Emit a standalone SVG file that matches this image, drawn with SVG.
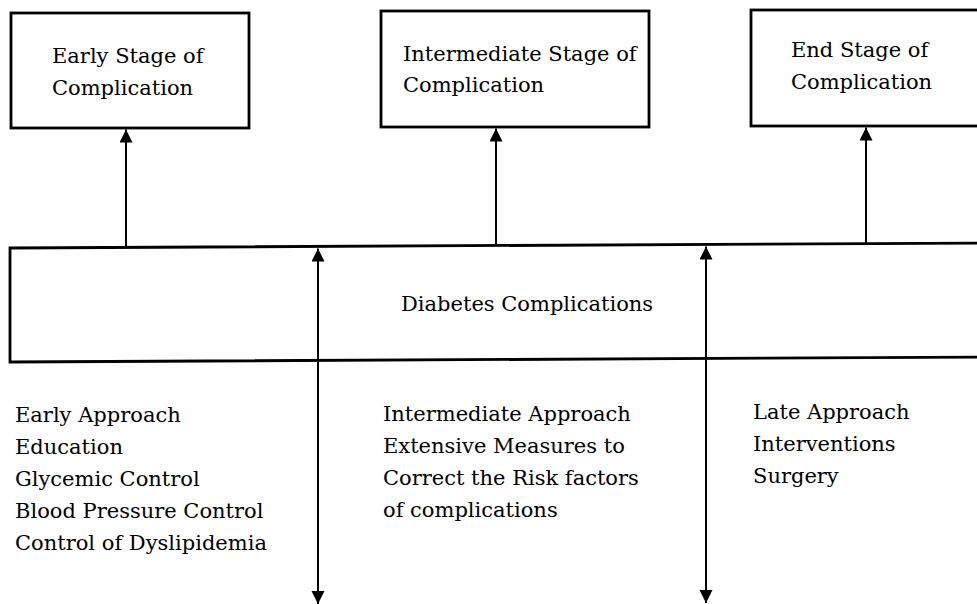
<svg xmlns="http://www.w3.org/2000/svg" width="977" height="604" viewBox="0 0 977 604">
  <style>
    .box { fill: #ffffff; stroke: #000000; stroke-width: 2.8; }
    .lbl { font-family: "DejaVu Serif", "Liberation Serif", serif; font-size: 21px; fill: #000000; }
    .conn { stroke: #000000; stroke-width: 2; fill: none; }
  </style>
  <defs>
    <marker id="ah" markerUnits="userSpaceOnUse" markerWidth="14" markerHeight="14" refX="13" refY="6.5" orient="auto-start-reverse">
      <path d="M0,0 L13,6.5 L0,13 Z" fill="#000000"/>
    </marker>
  </defs>
  <rect x="0" y="0" width="977" height="604" fill="#ffffff"/>

  <g id="node-early-stage">
    <rect class="box" x="11" y="13" width="238" height="115"/>
    <text class="lbl" x="52" y="63">Early Stage of</text>
    <text class="lbl" x="52" y="95">Complication</text>
  </g>

  <g id="node-intermediate-stage">
    <rect class="box" x="381" y="11" width="268" height="116"/>
    <text class="lbl" x="403" y="61">Intermediate Stage of</text>
    <text class="lbl" x="403" y="92">Complication</text>
  </g>

  <g id="node-end-stage">
    <rect class="box" x="751" y="10" width="250" height="116"/>
    <text class="lbl" x="791" y="57">End Stage of</text>
    <text class="lbl" x="791" y="89">Complication</text>
  </g>

  <g id="node-diabetes-complications">
    <path class="box" d="M10,248 L1000,243 L1000,357 L10,362 Z"/>
    <text class="lbl" x="401" y="311">Diabetes Complications</text>
  </g>

  <g id="node-early-approach">
    <text class="lbl" x="15" y="422">Early Approach</text>
    <text class="lbl" x="15" y="454">Education</text>
    <text class="lbl" x="15" y="486">Glycemic Control</text>
    <text class="lbl" x="15" y="518">Blood Pressure Control</text>
    <text class="lbl" x="15" y="550">Control of Dyslipidemia</text>
  </g>

  <g id="node-intermediate-approach">
    <text class="lbl" x="383" y="421">Intermediate Approach</text>
    <text class="lbl" x="383" y="453">Extensive Measures to</text>
    <text class="lbl" x="383" y="485">Correct the Risk factors</text>
    <text class="lbl" x="383" y="517">of complications</text>
  </g>

  <g id="node-late-approach">
    <text class="lbl" x="753" y="419">Late Approach</text>
    <text class="lbl" x="753" y="451">Interventions</text>
    <text class="lbl" x="753" y="483">Surgery</text>
  </g>

  <g id="connectors">
    <line class="conn" x1="126" y1="247" x2="126" y2="129.5" marker-end="url(#ah)"/>
    <line class="conn" x1="496" y1="245" x2="496" y2="128.5" marker-end="url(#ah)"/>
    <line class="conn" x1="866" y1="243.5" x2="866" y2="127.5" marker-end="url(#ah)"/>
    <line class="conn" x1="318" y1="248.5" x2="318" y2="604" marker-start="url(#ah)" marker-end="url(#ah)"/>
    <line class="conn" x1="706" y1="246.5" x2="706" y2="603" marker-start="url(#ah)" marker-end="url(#ah)"/>
  </g>
</svg>
